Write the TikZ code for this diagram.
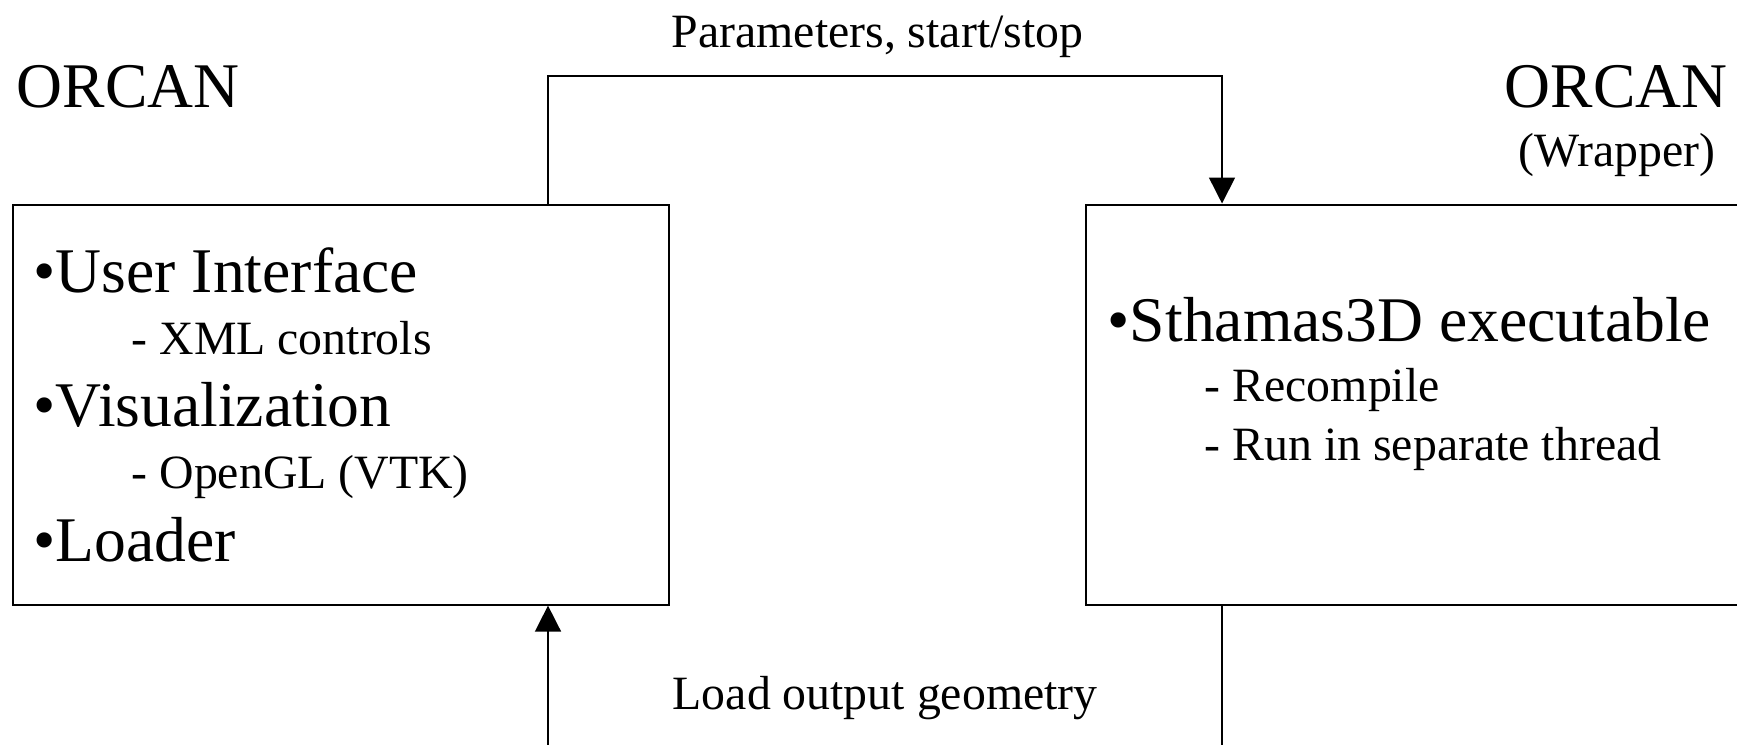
\documentclass[tikz,border=0pt]{standalone}
\usepackage{fontspec}
\setmainfont{Liberation Serif}
\usetikzlibrary{arrows.meta}
\tikzset{
  block/.style={draw, line width=0.6pt, rectangle, inner sep=0pt, anchor=north west,
    minimum height=40mm},
  head/.style={font=\fontsize{18.1}{21}\selectfont, anchor=base west, inner sep=0pt},
  item/.style={font=\fontsize{13.6}{16}\selectfont, anchor=base west, inner sep=0pt},
  link/.style={line width=0.45pt, -{Triangle[width=2.6mm,length=2.6mm]}},
}
\begin{document}
\begin{tikzpicture}[x=0.1mm, y=-0.1mm]
\useasboundingbox (0,0) rectangle (1737,744);
\clip (0,0) rectangle (1737,744);
% blocks
\node[block, minimum width=65.6mm] (gui) at (12,203.5) {};
\node[block, minimum width=72mm] (sim) at (1085,203.5) {};
% titles
\node[head] (orcanL) at (16,107) {ORCAN};
\node[head, anchor=base] (orcanR) at (1616,107) {ORCAN};
\node[item, anchor=base] (wrap) at (1617,166) {(Wrapper)};
% left block contents
\node[head] (ui) at (33,292.5) {•User Interface};
\node[item] (xml) at (131,354) {- XML controls};
\node[head] (vis) at (33,426) {•Visualization};
\node[item] (gl) at (131,488) {- OpenGL (VTK)};
\node[head] (load) at (33,561) {•Loader};
% right block contents
\node[head] (exe) at (1107,341) {•Sthamas3D executable};
\node[item] (comp) at (1204,401) {- Recompile};
\node[item] (thr) at (1204,460) {- Run in separate thread};
% connector labels
\node[item] (par) at (671,47) {Parameters, start/stop};
\node[item] (geo) at (672,709) {Load output geometry};
% connectors
\coordinate (upL) at (548,76);
\coordinate (upR) at (1222,76);
\coordinate (dnR) at (1222,800);
\coordinate (dnL) at (548,800);
\draw[link] (gui.north -| upL) -- (upL) -- (upR) -- (sim.north -| upR);
\draw[link] (sim.south -| dnR) -- (dnR) -- (dnL) -- (gui.south -| dnL);
\end{tikzpicture}
\end{document}
